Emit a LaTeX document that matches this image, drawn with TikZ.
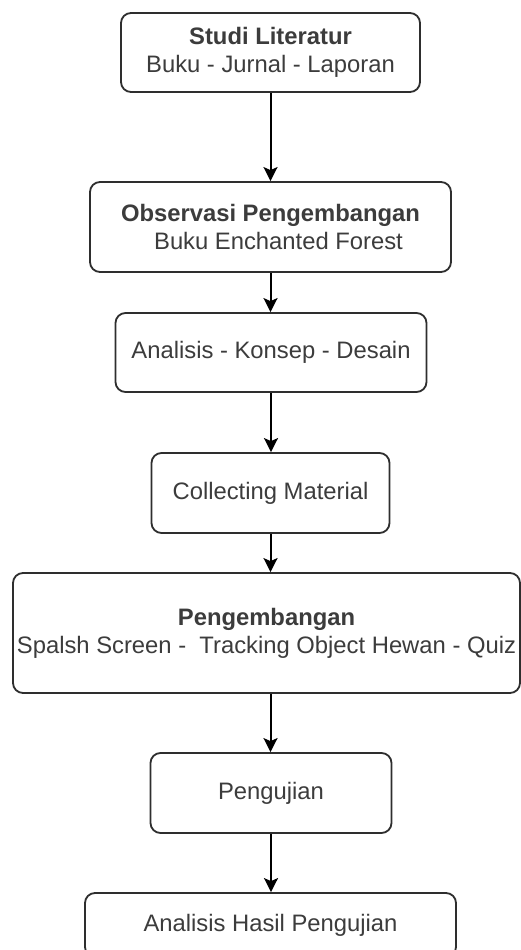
\documentclass[tikz,border=0pt]{standalone}
\usepackage{fontspec}
\setmainfont{Liberation Sans}
\usetikzlibrary{arrows.meta}
\definecolor{txt}{HTML}{3C3C3C}
\definecolor{edge}{HTML}{2E2E2E}
\begin{document}
\begin{tikzpicture}[x=1pt,y=-1pt,
  box/.style={draw=edge, line width=1.8pt, rounded corners=10pt, fill=white, inner sep=0pt,
    align=center, text=txt, font=\fontsize{23.8}{28}\selectfont},
  flow/.style={draw=black, line width=2pt, -{Stealth[width=14pt,length=14pt,inset=3pt]}}]
\useasboundingbox (0,0) rectangle (520,950);
\fill[white] (0,0) rectangle (520,950);
\node[box, minimum width=299pt, minimum height=79pt] (b1) at (270.5,52.5)
  {\textbf{Studi Literatur}\\Buku - Jurnal - Laporan};
\node[box, minimum width=361pt, minimum height=90pt] (b2) at (270.5,227)
  {\textbf{Observasi Pengembangan}\\\hspace*{16pt}Buku Enchanted Forest};
\node[box, minimum width=311pt, minimum height=79pt] (b3) at (271,352.5)
  {Analisis - Konsep - Desain};
\node[box, minimum width=238pt, minimum height=80pt] (b4) at (270.5,493)
  {Collecting Material};
\node[box, minimum width=507pt, minimum height=120pt] (b5) at (266.5,633)
  {\textbf{Pengembangan}\\Spalsh Screen -\ \ Tracking Object Hewan - Quiz};
\node[box, minimum width=241pt, minimum height=80pt] (b6) at (271,793)
  {Pengujian};
\node[box, minimum width=371pt, minimum height=64pt] (b7) at (270.5,925)
  {Analisis Hasil Pengujian};
\draw[flow] (b1.south) -- (b1.south |- b2.north);
\draw[flow] (b2.south) -- (b2.south |- b3.north);
\draw[flow] (b3.south) -- (b3.south |- b4.north);
\draw[flow] (b4.south) -- (b4.south |- b5.north);
\draw[flow] (b4.south |- b5.south) -- (b4.south |- b6.north);
\draw[flow] (b6.south) -- (b6.south |- b7.north);
\end{tikzpicture}
\end{document}
